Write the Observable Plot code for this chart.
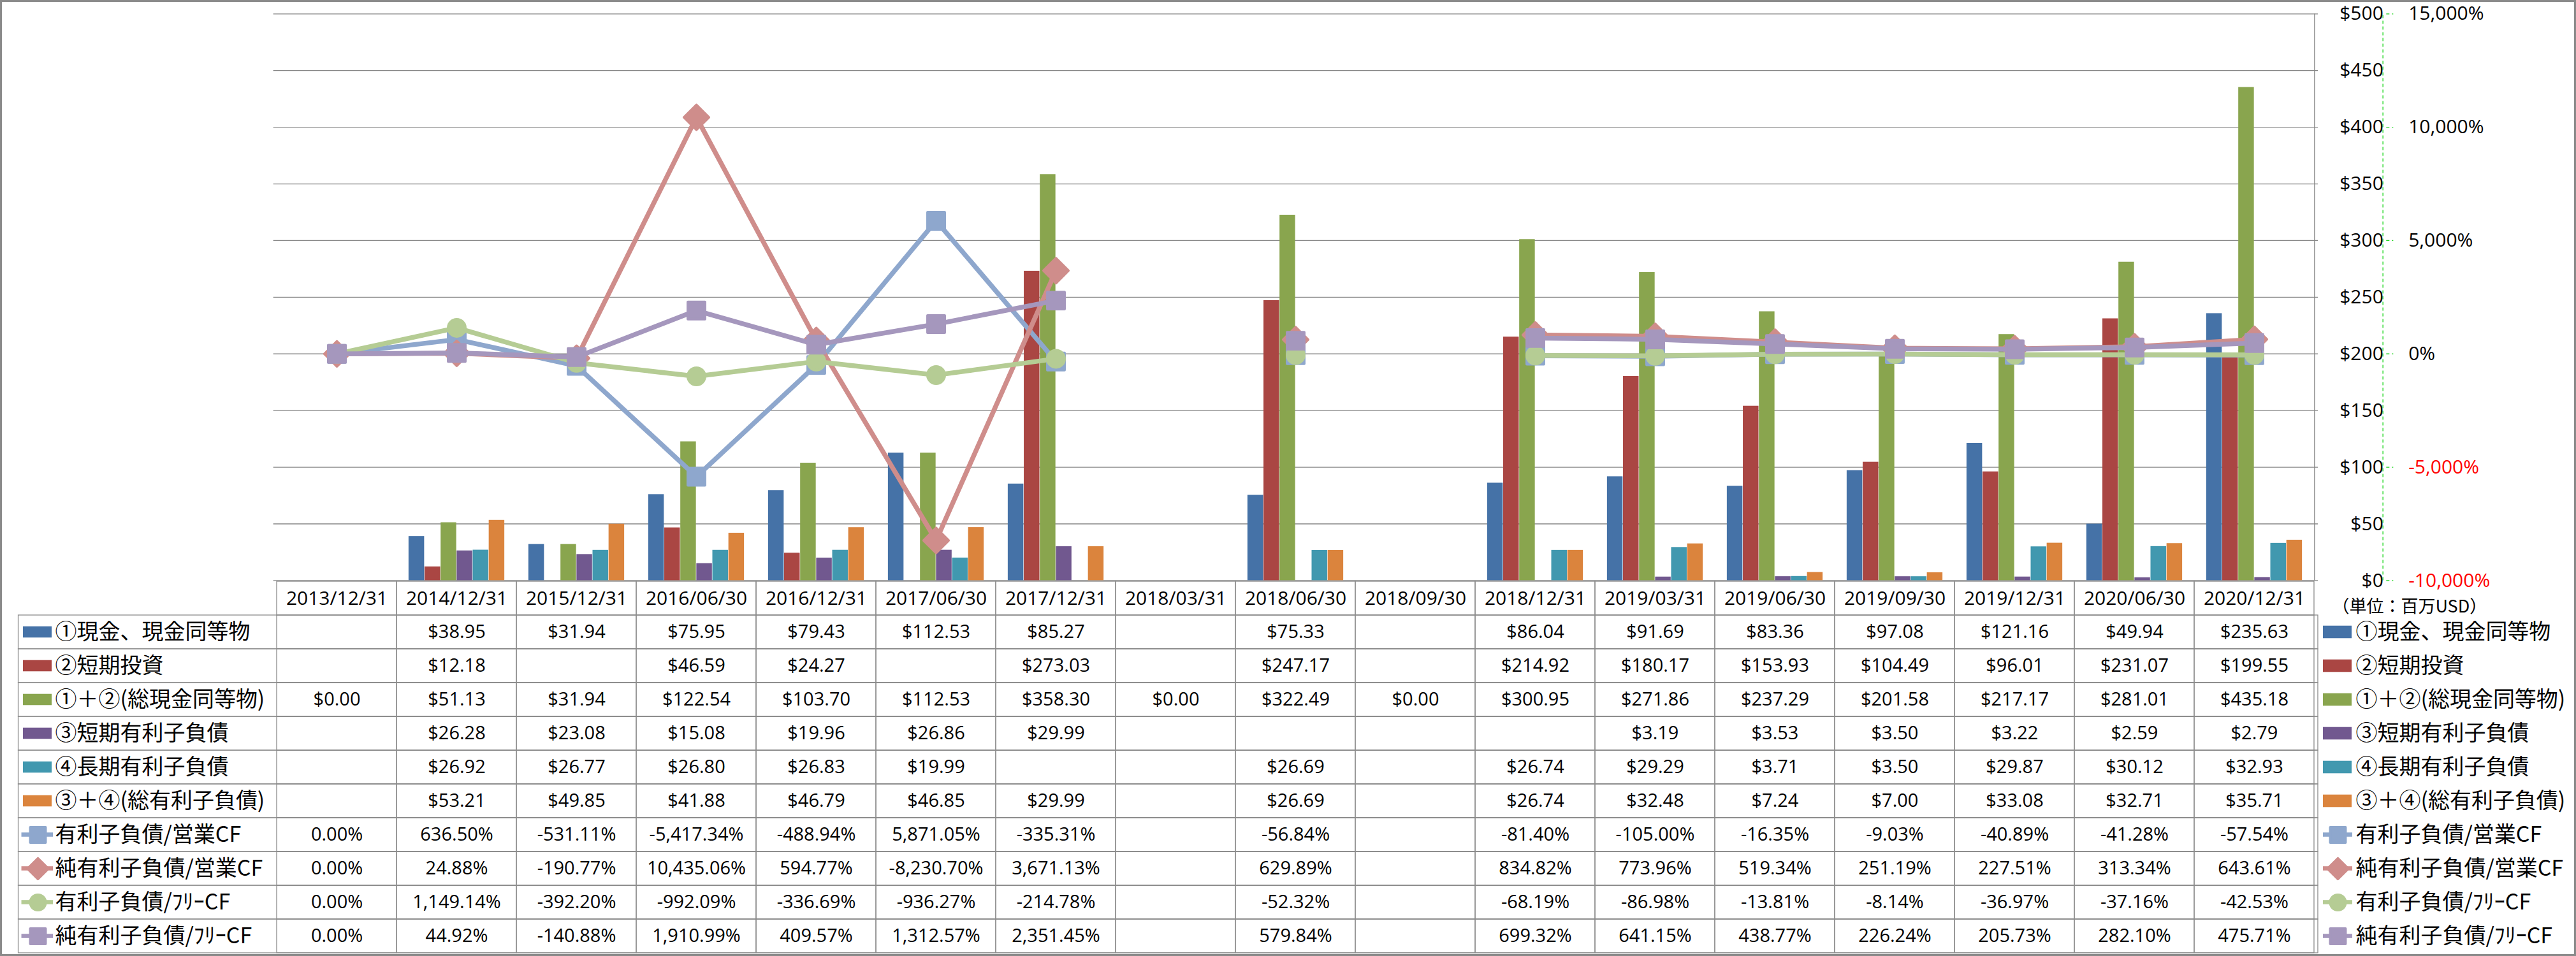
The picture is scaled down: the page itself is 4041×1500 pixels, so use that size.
<!DOCTYPE html>
<html>
<head>
<meta charset="utf-8">
<script src="https://cdn.jsdelivr.net/npm/d3@7"></script>
<script src="https://cdn.jsdelivr.net/npm/@observablehq/plot@0.6"></script>
<style>
  body { margin: 0; background: #fff; }
  #wrap { position: relative; width: 4041px; height: 1500px; overflow: hidden; background: #fff; }
  #wrap svg { position: absolute; left: 0; }
  #border { position: absolute; left: 0; top: 0; width: 4041px; height: 1500px; box-sizing: border-box; border: 3px solid #8a8a8a; pointer-events: none; }
</style>
</head>
<body>
<div id="wrap"></div>
<script>
// ---------------- data ----------------
const dates = ["2013/12/31","2014/12/31","2015/12/31","2016/06/30","2016/12/31","2017/06/30","2017/12/31","2018/03/31","2018/06/30","2018/09/30","2018/12/31","2019/03/31","2019/06/30","2019/09/30","2019/12/31","2020/06/30","2020/12/31"];

const rowNames = ["①現金、現金同等物","②短期投資","①＋②(総現金同等物)","③短期有利子負債","④長期有利子負債","③＋④(総有利子負債)","有利子負債/営業CF","純有利子負債/営業CF","有利子負債/ﾌﾘｰCF","純有利子負債/ﾌﾘｰCF"];

const cash        = [null, 38.95, 31.94, 75.95, 79.43, 112.53, 85.27, null, 75.33, null, 86.04, 91.69, 83.36, 97.08, 121.16, 49.94, 235.63];
const shortInvest = [null, 12.18, null, 46.59, 24.27, null, 273.03, null, 247.17, null, 214.92, 180.17, 153.93, 104.49, 96.01, 231.07, 199.55];
const totalCash   = [0.00, 51.13, 31.94, 122.54, 103.70, 112.53, 358.30, 0.00, 322.49, 0.00, 300.95, 271.86, 237.29, 201.58, 217.17, 281.01, 435.18];
const shortDebt   = [null, 26.28, 23.08, 15.08, 19.96, 26.86, 29.99, null, null, null, null, 3.19, 3.53, 3.50, 3.22, 2.59, 2.79];
const longDebt    = [null, 26.92, 26.77, 26.80, 26.83, 19.99, null, null, 26.69, null, 26.74, 29.29, 3.71, 3.50, 29.87, 30.12, 32.93];
const totalDebt   = [null, 53.21, 49.85, 41.88, 46.79, 46.85, 29.99, null, 26.69, null, 26.74, 32.48, 7.24, 7.00, 33.08, 32.71, 35.71];

const debtToOCF    = [0.00, 636.50, -531.11, -5417.34, -488.94, 5871.05, -335.31, null, -56.84, null, -81.40, -105.00, -16.35, -9.03, -40.89, -41.28, -57.54];
const netDebtToOCF = [0.00, 24.88, -190.77, 10435.06, 594.77, -8230.70, 3671.13, null, 629.89, null, 834.82, 773.96, 519.34, 251.19, 227.51, 313.34, 643.61];
const debtToFCF    = [0.00, 1149.14, -392.20, -992.09, -336.69, -936.27, -214.78, null, -52.32, null, -68.19, -86.98, -13.81, -8.14, -36.97, -37.16, -42.53];
const netDebtToFCF = [0.00, 44.92, -140.88, 1910.99, 409.57, 1312.57, 2351.45, null, 579.84, null, 699.32, 641.15, 438.77, 226.24, 205.73, 282.10, 475.71];

const dollarTicks = [0, 50, 100, 150, 200, 250, 300, 350, 400, 450, 500];
const pctTicks = [-10000, -5000, 0, 5000, 10000, 15000];
const unitLabel = "（単位：百万USD）";

// ---------------- series styling ----------------
const barSeries = [
  {name: rowNames[0], values: cash,        color: "#4572A7"},
  {name: rowNames[1], values: shortInvest, color: "#AA4643"},
  {name: rowNames[2], values: totalCash,   color: "#89A54E"},
  {name: rowNames[3], values: shortDebt,   color: "#71588F"},
  {name: rowNames[4], values: longDebt,    color: "#4198AF"},
  {name: rowNames[5], values: totalDebt,   color: "#DB843D"}
];
const lineSeries = [
  {name: rowNames[6], values: debtToOCF,    color: "#8EA7CD", symbol: "square",   r: 15.2, rKey: 13.5},
  {name: rowNames[7], values: netDebtToOCF, color: "#CF8D8B", symbol: "diamond2", r: 17.6, rKey: 14.5},
  {name: rowNames[8], values: debtToFCF,    color: "#B5CC94", symbol: "circle",   r: 13.5, rKey: 12},
  {name: rowNames[9], values: netDebtToFCF, color: "#A597BD", symbol: "square",   r: 15.2, rKey: 13.5}
];

// ---------------- layout ----------------
const W = 4041;
const plotL = 428.6, plotR = 3636, axisX = 3743.3;
const plotTop = 21.3, plotBottom = 910.4;
const chartH = 960;
const bw = (plotR - plotL) / dates.length;
const groupPad = bw * 0.1;
const barW = (bw - 2 * groupPad) / barSeries.length;

const loc = d3.formatLocale({decimal: ".", thousands: ",", grouping: [3], currency: ["$", ""], minus: "-"});
const fmtUSD = loc.format("$,.2f");
const fmtNum2 = loc.format(",.2f");
const fmtInt = loc.format(",d");
const fmtPct = v => fmtNum2(v) + "%";
const toY = p => 200 + p / 50;   // secondary (percent) axis mapped onto $ axis

const numFont = "'Open Sans', 'Noto Sans', sans-serif";
const cjkFont = "'Noto Sans CJK JP', 'Noto Sans', sans-serif";
const gridColor = "#868686";
const axisGreen = "#19d419";

// ---------------- chart ----------------
const chartMarks = [
  Plot.ruleY(dollarTicks, {y: d => d, stroke: gridColor, strokeWidth: 1.3, insetRight: axisX - plotR}),
  Plot.ruleX([dates[dates.length - 1]], {x: d => d, y1: 0, y2: 500, dx: bw / 2, stroke: gridColor, strokeWidth: 1.3})
];
barSeries.forEach((s, i) => {
  const data = dates.map((d, j) => ({date: d, v: s.values[j]})).filter(d => d.v != null);
  chartMarks.push(Plot.barY(data, {
    x: "date", y: "v", fill: s.color,
    insetLeft: groupPad + i * barW,
    insetRight: bw - groupPad - (i + 1) * barW
  }));
});
lineSeries.forEach(s => {
  const data = dates.map((d, j) => ({date: d, v: s.values[j] == null ? null : toY(s.values[j])}));
  chartMarks.push(Plot.line(data, {x: "date", y: "v", stroke: s.color, strokeWidth: 7.5, strokeLinejoin: "round"}));
  chartMarks.push(Plot.dot(data.filter(d => d.v != null), {
    x: "date", y: "v", symbol: s.symbol, r: s.r, fill: s.color,
    stroke: s.color, strokeWidth: 4, strokeLinejoin: "round"
  }));
});
// axes on the right
chartMarks.push(
  Plot.ruleX([dates[dates.length - 1]], {x: d => d, y1: 0, y2: 500, dx: bw / 2 + (axisX - plotR), stroke: axisGreen, strokeWidth: 1.3, strokeDasharray: "5,4"}),
  Plot.tickY(pctTicks.map(toY), {y: d => d, insetLeft: axisX - plotL, insetRight: -11, stroke: axisGreen, strokeWidth: 1.3, strokeDasharray: "5,4"}),
  Plot.text(dollarTicks, {y: d => d, text: d => "$" + d, frameAnchor: "right", textAnchor: "end", dx: -5, fontSize: 30, fontFamily: numFont, fill: "#000"}),
  Plot.text(pctTicks.filter(p => p >= 0), {y: toY, text: p => fmtInt(p) + "%", frameAnchor: "right", textAnchor: "start", dx: 34.4, fontSize: 30, fontFamily: numFont, fill: "#000"}),
  Plot.text(pctTicks.filter(p => p < 0), {y: toY, text: p => fmtInt(p) + "%", frameAnchor: "right", textAnchor: "start", dx: 34.4, fontSize: 30, fontFamily: numFont, fill: "#ff0000"})
);

const chart = Plot.plot({
  width: W, height: chartH,
  marginTop: plotTop, marginBottom: chartH - plotBottom, marginLeft: plotL, marginRight: W - axisX,
  x: {type: "band", domain: dates, range: [plotL, plotR], padding: 0, axis: null},
  y: {domain: [0, 500], axis: null},
  style: {background: "transparent", overflow: "visible"},
  marks: chartMarks
});
chart.style.top = "0px";

// ---------------- data table ----------------
const tableTop = 910.4;
const rowH = 53.4;
const tableH = 1500 - tableTop;
const tableL = 28.5;
const frameW = plotR - tableL;
const cellStroke = "#8c8c8c";
const allValues = [cash, shortInvest, totalCash, shortDebt, longDebt, totalDebt, debtToOCF, netDebtToOCF, debtToFCF, netDebtToFCF];
const pairs = [];
rowNames.forEach((r, i) => dates.forEach((d, j) => {
  const v = allValues[i][j];
  pairs.push({row: r, date: d, v, label: v == null ? "" : (i < 6 ? fmtUSD(v) : fmtPct(v))});
}));

const tableMarks = [
  Plot.cell(rowNames, {y: d => d, fill: "none", stroke: cellStroke, strokeWidth: 1.3}),
  Plot.cell(dates, {x: d => d, y: () => "header", fill: "none", stroke: cellStroke, strokeWidth: 1.3}),
  Plot.cell(pairs, {x: "date", y: "row", fill: "none", stroke: cellStroke, strokeWidth: 1.3}),
  Plot.text(dates, {x: d => d, y: () => "header", text: d => d, fontSize: 30, fontFamily: numFont, fill: "#000"}),
  Plot.text(pairs.filter(p => p.label), {x: "date", y: "row", text: "label", fontSize: 29, fontFamily: numFont, fill: "#000"}),
  Plot.text(rowNames, {y: d => d, text: d => d, frameAnchor: "left", textAnchor: "start", dx: 57.5, fontSize: 34, fontFamily: cjkFont, fill: "#000"}),
  Plot.text(rowNames, {y: d => d, text: d => d, frameAnchor: "right", textAnchor: "start", dx: 59, fontSize: 34, fontFamily: cjkFont, fill: "#000"}),
  Plot.text([unitLabel], {y: () => "header", text: d => d, frameAnchor: "right", textAnchor: "start", dx: 22, dy: 13, fontSize: 27, fontFamily: cjkFont, fill: "#000"})
];
barSeries.forEach(s => {
  // key in the table's first column
  tableMarks.push(Plot.cell([s.name], {y: d => d, fill: s.color, insetLeft: 7.5, insetRight: frameW - 7.5 - 45, insetTop: (rowH - 18) / 2, insetBottom: (rowH - 18) / 2}));
  // key in the legend on the right
  tableMarks.push(Plot.cell([s.name], {y: d => d, fill: s.color, insetLeft: frameW + 8, insetRight: -53, insetTop: (rowH - 20) / 2, insetBottom: (rowH - 20) / 2}));
});
lineSeries.forEach(s => {
  tableMarks.push(Plot.cell([s.name], {y: d => d, fill: s.color, insetLeft: 5, insetRight: frameW - 54.5, insetTop: (rowH - 7) / 2, insetBottom: (rowH - 7) / 2}));
  tableMarks.push(Plot.dot([s.name], {y: d => d, frameAnchor: "left", dx: 30.5, symbol: s.symbol, r: s.rKey, fill: s.color, stroke: s.color, strokeWidth: 4, strokeLinejoin: "round"}));
  tableMarks.push(Plot.cell([s.name], {y: d => d, fill: s.color, insetLeft: frameW + 8, insetRight: -54, insetTop: (rowH - 7) / 2, insetBottom: (rowH - 7) / 2}));
  tableMarks.push(Plot.dot([s.name], {y: d => d, frameAnchor: "right", dx: 31, symbol: s.symbol, r: s.rKey, fill: s.color, stroke: s.color, strokeWidth: 4, strokeLinejoin: "round"}));
});

const table = Plot.plot({
  width: W, height: tableH,
  marginTop: 0, marginBottom: tableH - 11 * rowH, marginLeft: tableL, marginRight: W - plotR,
  x: {type: "band", domain: dates, range: [plotL, plotR], padding: 0, axis: null},
  y: {type: "band", domain: ["header", ...rowNames], padding: 0, axis: null},
  style: {background: "transparent", overflow: "visible"},
  marks: tableMarks
});
table.style.top = tableTop + "px";

const wrap = document.getElementById("wrap");
wrap.appendChild(chart);
wrap.appendChild(table);
const border = document.createElement("div");
border.id = "border";
wrap.appendChild(border);
</script>
</body>
</html>
